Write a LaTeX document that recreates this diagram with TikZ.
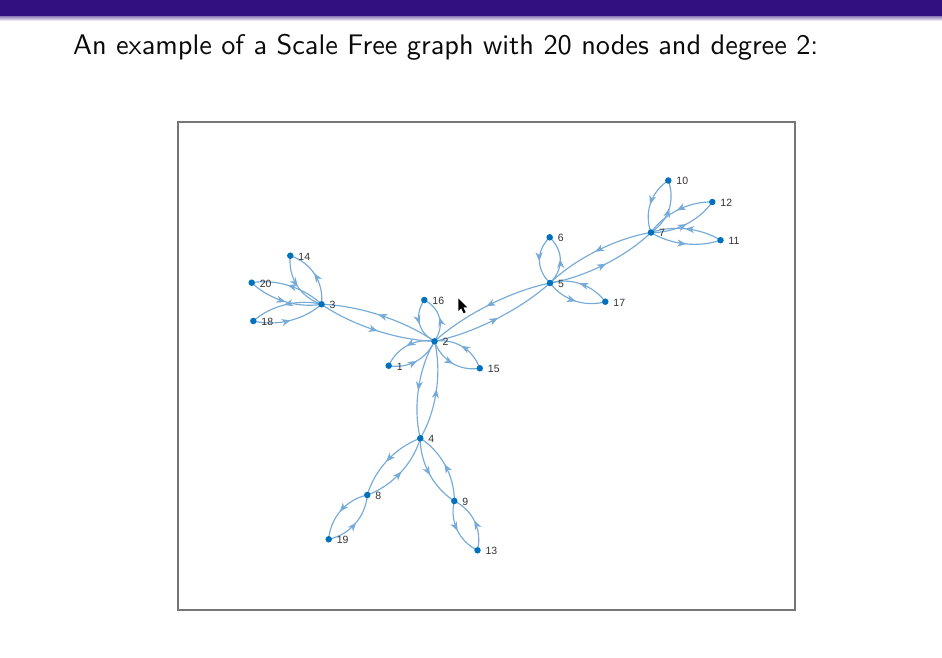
\documentclass[tikz,border=0pt]{standalone}
\usepackage{fontspec}
\usepackage{graphicx}
\newfontfamily\lblfont{Liberation Sans}
\usetikzlibrary{calc,decorations.markings,arrows.meta}
\definecolor{barpurple}{RGB}{50,16,128}
\definecolor{nodeblue}{RGB}{0,114,189}
\definecolor{edgeblue}{RGB}{118,170,216}
\definecolor{boxgray}{RGB}{118,118,118}
\definecolor{lblgray}{RGB}{50,50,50}
\definecolor{titleblack}{RGB}{10,10,10}
\pgfdeclarelayer{bgl}
\pgfdeclarelayer{edges}
\pgfsetlayers{bgl,edges,main}
\tikzset{
  vert/.style={circle,fill=nodeblue,inner sep=0pt,minimum size=6.5pt},
  lbl/.style={font=\lblfont\fontsize{10.5}{11}\selectfont,text=lblgray,inner sep=0pt,anchor=west},
  edgeline/.style={color=edgeblue,draw=edgeblue,line width=1.15pt,postaction={decorate},
    decoration={markings,mark=at position 0.52 with {\arrow{Stealth[length=9pt,width=7pt,inset=2.6pt]}}}},
}
\newcommand{\dedge}[3][11pt]{%
  \path[edgeline] (#2.center) .. controls ($(#2.center)!0.3!(#3.center)!#1!-90:(#3.center)$) and ($(#2.center)!0.7!(#3.center)!#1!-90:(#3.center)$) .. (#3.center);%
}
\newcommand{\bothedges}[3][11pt]{\dedge[#1]{#2}{#3}\dedge[#1]{#3}{#2}}
\begin{document}
\begin{tikzpicture}[x=1pt,y=-1pt]
\useasboundingbox (0,0) rectangle (942,658);
\begin{pgfonlayer}{bgl}
\fill[white] (0,0) rectangle (942,658);
\end{pgfonlayer}
% top bar
\fill[barpurple] (0,0) rectangle (942,17);
\shade[top color=barpurple!45,bottom color=white] (0,17) rectangle (942,21);
% title
\node[anchor=base west,inner sep=0pt,text=titleblack] (title) at (73,55)
  {\resizebox{745pt}{!}{\sffamily An example of a Scale Free graph with 20 nodes and degree 2:}};
% frame
\draw[boxgray,line width=1.4pt] (178,122) rectangle (795,610);
% vertices
\node[vert] (n1) at (388.7,365.7) {};
\node[vert] (n2) at (434.5,341.3) {};
\node[vert] (n3) at (321.5,304.3) {};
\node[vert] (n4) at (420.3,438.3) {};
\node[vert] (n5) at (550,283) {};
\node[vert] (n6) at (549.7,237.3) {};
\node[vert] (n7) at (651,232.5) {};
\node[vert] (n8) at (367.3,495) {};
\node[vert] (n9) at (454.3,501) {};
\node[vert] (n10) at (668.3,180.5) {};
\node[vert] (n11) at (720.5,240.2) {};
\node[vert] (n12) at (712.3,202) {};
\node[vert] (n13) at (477.5,550.3) {};
\node[vert] (n14) at (290.3,255.7) {};
\node[vert] (n15) at (479.8,368.3) {};
\node[vert] (n16) at (424.3,300) {};
\node[vert] (n17) at (605.3,301.7) {};
\node[vert] (n18) at (253.3,321) {};
\node[vert] (n19) at (328.7,539.3) {};
\node[vert] (n20) at (251.7,282.7) {};
% labels
\foreach \i in {1,...,20}{
  \node[lbl] (l\i) at ([xshift=4.5pt,yshift=-0.8pt]n\i.east) {\i};
}
% edges
\begin{pgfonlayer}{edges}
\bothedges[12pt]{n2}{n1}
\bothedges[10.5pt]{n2}{n3}
\bothedges[12pt]{n2}{n4}
\bothedges[10.5pt]{n2}{n5}
\bothedges[13pt]{n2}{n15}
\bothedges[14pt]{n2}{n16}
\bothedges[14pt]{n3}{n14}
\bothedges[11pt]{n3}{n20}
\bothedges[11pt]{n3}{n18}
\bothedges[12pt]{n4}{n8}
\bothedges[12pt]{n4}{n9}
\bothedges[14pt]{n5}{n6}
\bothedges[10.5pt]{n5}{n7}
\bothedges[12pt]{n5}{n17}
\bothedges[13pt]{n7}{n10}
\bothedges[10pt]{n7}{n11}
\bothedges[11pt]{n7}{n12}
\bothedges[13pt]{n8}{n19}
\bothedges[13pt]{n9}{n13}
\end{pgfonlayer}
% mouse pointer
\fill[black] (458.3,298.5) -- (458.3,311) -- (461.2,308.2) -- (463.6,313.2) -- (465.6,312.2) -- (463.3,307.3) -- (467.3,307.3) -- cycle;
\end{tikzpicture}
\end{document}
